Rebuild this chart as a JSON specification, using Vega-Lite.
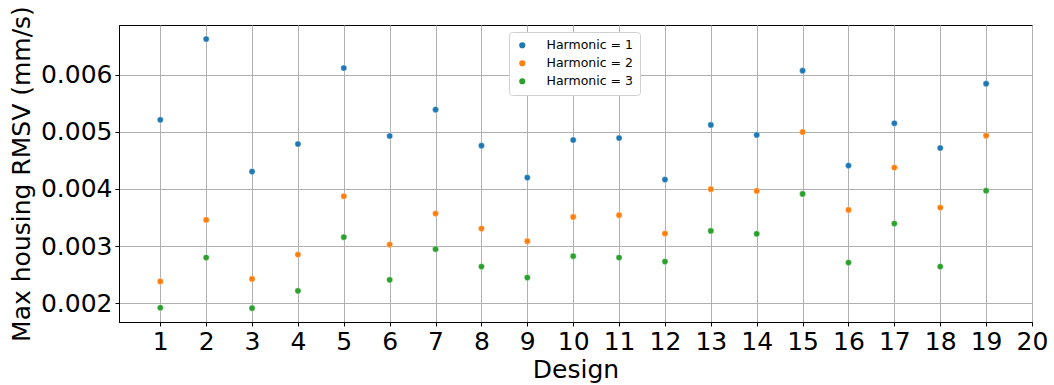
{
  "$schema": "https://vega.github.io/schema/vega-lite/v6.json",
  "width": 913,
  "height": 297,
  "autosize": {"type": "none"},
  "padding": {"left": 119, "top": 25, "right": 22, "bottom": 63},
  "background": "white",
  "config": {
    "font": "DejaVu Sans",
    "view": {"stroke": "black", "strokeWidth": 1},
    "axis": {
      "labelFont": "DejaVu Sans",
      "titleFont": "DejaVu Sans",
      "labelColor": "black",
      "titleColor": "black",
      "titleFontWeight": "normal",
      "gridColor": "#b0b0b0",
      "gridWidth": 1,
      "domainColor": "black",
      "tickColor": "black",
      "tickSize": 4,
      "labelFontSize": 25,
      "titleFontSize": 25
    }
  },
  "data": {
    "values": [
      {"design": 1, "harmonic": 1, "rmsv": 0.00521},
      {"design": 1, "harmonic": 2, "rmsv": 0.00238},
      {"design": 1, "harmonic": 3, "rmsv": 0.00192},
      {"design": 2, "harmonic": 1, "rmsv": 0.006625},
      {"design": 2, "harmonic": 2, "rmsv": 0.003458},
      {"design": 2, "harmonic": 3, "rmsv": 0.002798},
      {"design": 3, "harmonic": 1, "rmsv": 0.004303},
      {"design": 3, "harmonic": 2, "rmsv": 0.002425},
      {"design": 3, "harmonic": 3, "rmsv": 0.001912},
      {"design": 4, "harmonic": 1, "rmsv": 0.004787},
      {"design": 4, "harmonic": 2, "rmsv": 0.00285},
      {"design": 4, "harmonic": 3, "rmsv": 0.002215},
      {"design": 5, "harmonic": 1, "rmsv": 0.006117},
      {"design": 5, "harmonic": 2, "rmsv": 0.003872},
      {"design": 5, "harmonic": 3, "rmsv": 0.003155},
      {"design": 6, "harmonic": 1, "rmsv": 0.004927},
      {"design": 6, "harmonic": 2, "rmsv": 0.003026},
      {"design": 6, "harmonic": 3, "rmsv": 0.002408},
      {"design": 7, "harmonic": 1, "rmsv": 0.005388},
      {"design": 7, "harmonic": 2, "rmsv": 0.003568},
      {"design": 7, "harmonic": 3, "rmsv": 0.002945},
      {"design": 8, "harmonic": 1, "rmsv": 0.004758},
      {"design": 8, "harmonic": 2, "rmsv": 0.003305},
      {"design": 8, "harmonic": 3, "rmsv": 0.00264},
      {"design": 9, "harmonic": 1, "rmsv": 0.004198},
      {"design": 9, "harmonic": 2, "rmsv": 0.003085},
      {"design": 9, "harmonic": 3, "rmsv": 0.002448},
      {"design": 10, "harmonic": 1, "rmsv": 0.004857},
      {"design": 10, "harmonic": 2, "rmsv": 0.00351},
      {"design": 10, "harmonic": 3, "rmsv": 0.002822},
      {"design": 11, "harmonic": 1, "rmsv": 0.004892},
      {"design": 11, "harmonic": 2, "rmsv": 0.00354},
      {"design": 11, "harmonic": 3, "rmsv": 0.002798},
      {"design": 12, "harmonic": 1, "rmsv": 0.004163},
      {"design": 12, "harmonic": 2, "rmsv": 0.003218},
      {"design": 12, "harmonic": 3, "rmsv": 0.002728},
      {"design": 13, "harmonic": 1, "rmsv": 0.00512},
      {"design": 13, "harmonic": 2, "rmsv": 0.003995},
      {"design": 13, "harmonic": 3, "rmsv": 0.003265},
      {"design": 14, "harmonic": 1, "rmsv": 0.004945},
      {"design": 14, "harmonic": 2, "rmsv": 0.003965},
      {"design": 14, "harmonic": 3, "rmsv": 0.003213},
      {"design": 15, "harmonic": 1, "rmsv": 0.00607},
      {"design": 15, "harmonic": 2, "rmsv": 0.004997},
      {"design": 15, "harmonic": 3, "rmsv": 0.003913},
      {"design": 16, "harmonic": 1, "rmsv": 0.004408},
      {"design": 16, "harmonic": 2, "rmsv": 0.003633},
      {"design": 16, "harmonic": 3, "rmsv": 0.00271},
      {"design": 17, "harmonic": 1, "rmsv": 0.00515},
      {"design": 17, "harmonic": 2, "rmsv": 0.004373},
      {"design": 17, "harmonic": 3, "rmsv": 0.003393},
      {"design": 18, "harmonic": 1, "rmsv": 0.004717},
      {"design": 18, "harmonic": 2, "rmsv": 0.003673},
      {"design": 18, "harmonic": 3, "rmsv": 0.00264},
      {"design": 19, "harmonic": 1, "rmsv": 0.005843},
      {"design": 19, "harmonic": 2, "rmsv": 0.004933},
      {"design": 19, "harmonic": 3, "rmsv": 0.00397}
    ]
  },
  "mark": {"type": "point", "filled": true, "size": 38, "opacity": 1, "stroke": "white", "strokeWidth": 0.4},
  "encoding": {
    "x": {
      "field": "design",
      "type": "quantitative",
      "scale": {"domain": [0.1, 20], "nice": false, "zero": false},
      "axis": {
        "title": "Design",
        "values": [1,2,3,4,5,6,7,8,9,10,11,12,13,14,15,16,17,18,19,20],
        "format": "d",
        "labelPadding": 3,
        "titlePadding": 3,
        "labelFlush": false
      }
    },
    "y": {
      "field": "rmsv",
      "type": "quantitative",
      "scale": {"domain": [0.00167, 0.00687], "nice": false, "zero": false},
      "axis": {
        "title": "Max housing RMSV (mm/s)",
        "values": [0.002, 0.003, 0.004, 0.005, 0.006],
        "format": ".3f",
        "labelPadding": 3,
        "titlePadding": 6,
        "labelFlush": false
      }
    },
    "color": {
      "field": "harmonic",
      "type": "nominal",
      "scale": {"domain": [1, 2, 3], "range": ["#1f77b4", "#ff7f0e", "#2ca02c"]},
      "legend": {
        "title": null,
        "orient": "none",
        "legendX": 390,
        "legendY": 7,
        "labelExpr": "'Harmonic = ' + datum.label",
        "labelFont": "DejaVu Sans",
        "labelFontSize": 12.5,
        "labelColor": "black",
        "labelOffset": 18,
        "symbolSize": 38,
        "symbolType": "circle",
        "symbolStrokeWidth": 0,
        "rowPadding": 5,
        "padding": 7,
        "fillColor": "white",
        "strokeColor": "#d0d0d0",
        "cornerRadius": 3
      }
    }
  }
}
